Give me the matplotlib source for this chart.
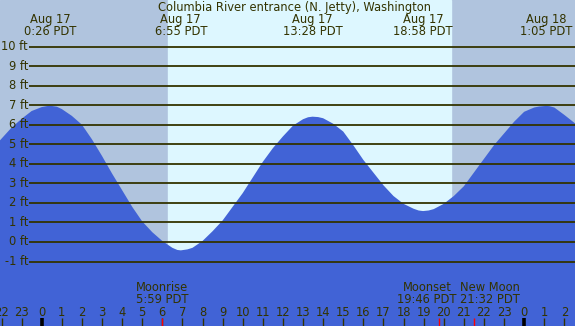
import numpy as np
import matplotlib
matplotlib.use("Agg")
import matplotlib.pyplot as plt

# tide heights (ft), hours since midnight Aug 17
hours = [-2.075, -1.5, -1.0, -0.5, 0.0, 0.25, 0.43, 0.75, 1.0, 1.5, 2.0, 2.5,
         3.0, 3.5, 4.0, 4.5, 5.0, 5.5, 6.0, 6.5, 6.75, 6.92, 7.25, 7.5, 8.0,
         8.5, 9.0, 9.5, 10.0, 10.5, 11.0, 11.5, 12.0, 12.5, 13.0, 13.25, 13.47,
         13.75, 14.0, 14.5, 15.0, 15.5, 16.0, 16.5, 17.0, 17.5, 18.0, 18.5,
         18.75, 18.97, 19.25, 19.5, 20.0, 20.5, 21.0, 21.5, 22.0, 22.5, 23.0,
         23.5, 24.0, 24.5, 24.75, 25.08, 25.25, 25.5, 26.0, 26.53]
heights = [5.2, 5.85, 6.3, 6.7, 6.9, 6.95, 6.97, 6.92, 6.8, 6.45, 6.0, 5.25,
           4.4, 3.5, 2.65, 1.8, 1.05, 0.5, 0.05, -0.3, -0.41, -0.43, -0.38,
           -0.3, 0.05, 0.55, 1.1, 1.8, 2.5, 3.3, 4.1, 4.8, 5.4, 5.95, 6.28,
           6.38, 6.41, 6.39, 6.33, 6.05, 5.65, 4.95, 4.2, 3.55, 2.9, 2.35, 1.95,
           1.7, 1.61, 1.58, 1.61, 1.68, 1.95, 2.35, 2.85, 3.55, 4.25, 4.95,
           5.55, 6.15, 6.66, 6.88, 6.93, 6.96, 6.95, 6.88, 6.5, 6.07]

# high / low labels
event_hours = [0.43, 6.92, 13.47, 18.97, 25.08]
event_dates = ["Aug 17", "Aug 17", "Aug 17", "Aug 17", "Aug 18"]
event_times = ["0:26 PDT", "6:55 PDT", "13:28 PDT", "18:58 PDT", "1:05 PDT"]

sunrise, sunset = 6.28, 20.36
moon_hours = [5.98, 19.77, 21.53]
moon_names = ["Moonrise", "Moonset", "New Moon"]
moon_times = ["5:59 PDT", "19:46 PDT", "21:32 PDT"]
moon_shift = [0, -12, 15]  # px, to keep labels apart

tick_hours = list(range(-2, 27))
tick_labels = [str(h % 24) for h in tick_hours]
ft_levels = list(range(-1, 11))

night = "#b0c4de"
day = "#ddf7ff"
water = "#4163d6"
ink = "#333300"
font = "DejaVu Sans"
fs = 8.3

fig = plt.figure(figsize=(5.75, 3.26), dpi=100)
ax = fig.add_axes([0, 0, 1, 1])
x0, x1 = -2.075, 26.53
y0, y1 = -4.30, 12.38
ax.set_xlim(x0, x1)
ax.set_ylim(y0, y1)
ax.axis("off")

ax.axvspan(x0, x1, color=night, zorder=0)
ax.axvspan(sunrise, sunset, color=day, zorder=0.5)
ax.fill_between(hours, heights, y0, color=water, lw=0, zorder=1)

# horizontal foot lines, starting after the labels
for lv in ft_levels:
    ax.plot([-0.62, x1], [lv, lv], color=ink, lw=1.3, zorder=2,
            solid_capstyle="butt")
    ax.text(-0.68, lv, f"{lv} ft", ha="right", va="center", fontsize=fs,
            family=font, color=ink, zorder=3)

ax.text(12.6, 12.0, "Columbia River entrance (N. Jetty), Washington",
        ha="center", va="center", fontsize=fs, family=font, color=ink)
for h, d, t in zip(event_hours, event_dates, event_times):
    ax.text(h, 11.37, d, ha="center", va="center", fontsize=fs, family=font,
            color=ink)
    ax.text(h, 10.76, t, ha="center", va="center", fontsize=fs, family=font,
            color=ink)

# hour ticks along the bottom
tick_len = 0.41
for h, lab in zip(tick_hours, tick_labels):
    thick = (h % 24 == 0)
    ax.plot([h, h], [y0, y0 + tick_len], color="black" if thick else ink,
            lw=2.6 if thick else 1.0, solid_capstyle="butt", zorder=3)
    ax.text(h, -3.62, lab, ha="center", va="center", fontsize=fs,
            family=font, color=ink)

for h, n, t, s in zip(moon_hours, moon_names, moon_times, moon_shift):
    ax.plot([h, h], [y0, y0 + tick_len], color="red", lw=1.0,
            solid_capstyle="butt", zorder=3)
    ax.annotate(n, (h, -2.33), xytext=(s * 0.72, 0), textcoords="offset points",
                ha="center", va="center", fontsize=fs, family=font, color=ink)
    ax.annotate(t, (h, -2.95), xytext=(s * 0.72, 0), textcoords="offset points",
                ha="center", va="center", fontsize=fs, family=font, color=ink)

fig.savefig("out.png", dpi=100)
